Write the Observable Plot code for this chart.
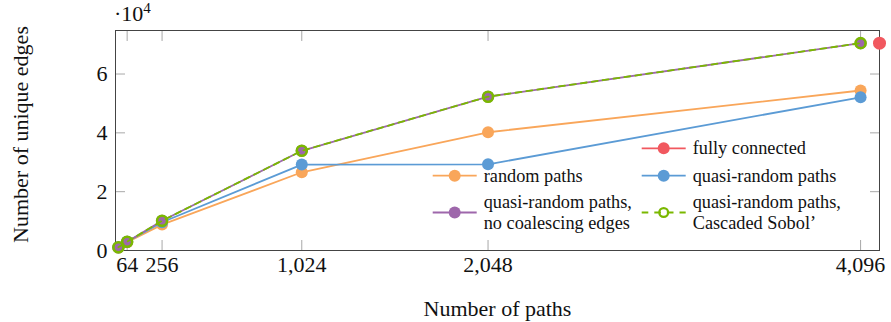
<!DOCTYPE html>
<html><head><meta charset="utf-8">
<script src="https://cdn.jsdelivr.net/npm/d3@7"></script>
<script src="https://cdn.jsdelivr.net/npm/@observablehq/plot@0.6"></script>
<style>
body{margin:0;background:#fff}
#chart{width:891px;height:322px}
</style>
</head><body><div id="chart"></div>
<script>
// ---- data ----
const paths = [16, 64, 256, 1024, 2048, 4096];
const randomPaths = [950, 2800, 8800, 26600, 40200, 54400];
const quasiRandomPaths = [1000, 2950, 9600, 29200, 29300, 52100];
const noCoalescing = [1100, 3000, 10100, 33900, 52300, 70500];
const cascadedSobol = [1100, 3000, 10100, 33900, 52300, 70500];
const fullyConnectedPaths = [4200];
const fullyConnectedEdges = [70500];
const xTicks = [64, 256, 1024, 2048, 4096];
const yTicks = [0, 20000, 40000, 60000];
const xLabel = "Number of paths";
const yLabel = "Number of unique edges";

const C = {orange:"#F9A65A", blue:"#5B9BD5", purple:"#9E67AB", green:"#7AB800", red:"#F1585F"};

const toRows = vals => paths.map((p, i) => ({paths: p, edges: vals[i]}));
const rRandom = toRows(randomPaths);
const rQuasi = toRows(quasiRandomPaths);
const rNoCo = toRows(noCoalescing);
const rSobol = toRows(cascadedSobol);
const rFull = fullyConnectedPaths.map((p, i) => ({paths: p, edges: fullyConnectedEdges[i]}));

const FONT = "Liberation Serif";
const lw = 1.8;

const chart = Plot.plot({
  width: 891, height: 322,
  marginLeft: 115, marginRight: 12, marginTop: 30, marginBottom: 72,
  style: {fontFamily: FONT, fontSize: "22px", background: "#fff", color: "#111"},
  x: {domain: [0, 4200]},
  y: {domain: [0, 74800]},
  marks: [
    // inward tick marks on all four sides
    Plot.axisX({anchor: "bottom", ticks: xTicks, tickSize: -10, stroke: "#a8a8a8", tickFormat: () => "", label: null}),
    Plot.axisX({anchor: "top", ticks: xTicks, tickSize: -10, stroke: "#a8a8a8", tickFormat: () => "", label: null}),
    Plot.axisY({anchor: "left", ticks: yTicks, tickSize: -10, stroke: "#a8a8a8", tickFormat: () => "", label: null}),
    Plot.axisY({anchor: "right", ticks: yTicks, tickSize: -10, stroke: "#a8a8a8", tickFormat: () => "", label: null}),
    // tick labels
    Plot.axisX({anchor: "bottom", ticks: xTicks, tickSize: 0, tickPadding: 6, tickFormat: d3.format(","), label: null, fontSize: 22}),
    Plot.axisY({anchor: "left", ticks: yTicks, tickSize: 0, tickPadding: 8, tickFormat: d => d / 1e4, label: null, fontSize: 22}),
    // axis titles
    Plot.text([xLabel], {text: d => d, frameAnchor: "bottom", lineAnchor: "bottom", dy: 65, fontSize: 22}),
    Plot.text([yLabel], {text: d => d, frameAnchor: "left", textAnchor: "middle", lineAnchor: "bottom", rotate: -90, dx: -88, dy: -6, fontSize: 22}),
    Plot.frame({stroke: "#444", strokeWidth: 1}),
    // series
    Plot.line(rRandom, {x: "paths", y: "edges", stroke: C.orange, strokeWidth: lw}),
    Plot.dot(rRandom, {x: "paths", y: "edges", fill: C.orange, r: 6}),
    Plot.line(rQuasi, {x: "paths", y: "edges", stroke: C.blue, strokeWidth: lw}),
    Plot.dot(rQuasi, {x: "paths", y: "edges", fill: C.blue, r: 6}),
    Plot.line(rNoCo, {x: "paths", y: "edges", stroke: C.purple, strokeWidth: lw}),
    Plot.dot(rNoCo, {x: "paths", y: "edges", fill: C.purple, r: 6}),
    Plot.line(rSobol, {x: "paths", y: "edges", stroke: C.green, strokeWidth: lw, strokeDasharray: "6,5"}),
    Plot.dot(rSobol, {x: "paths", y: "edges", fill: "none", stroke: C.green, strokeWidth: 2.6, r: 5}),
    Plot.dot(rFull, {x: "paths", y: "edges", fill: C.red, r: 6.5})
  ]
});
document.getElementById("chart").appendChild(chart);

// ---- multiplier label "·10^4" ----
const svg = d3.select(chart);
const mult = svg.append("text").attr("x", 114).attr("y", 21)
  .attr("text-anchor", "start")
  .attr("font-family", FONT).attr("font-size", 22).attr("fill", "#111");
mult.append("tspan").text("·10");
mult.append("tspan").attr("font-size", 15).attr("dy", -8).text("4");

// ---- legend ----
const legendItems = [
  {lines: ["fully connected"], color: C.red, col: 1, row: 0, kind: "solid"},
  {lines: ["random paths"], color: C.orange, col: 0, row: 1, kind: "solid"},
  {lines: ["quasi-random paths"], color: C.blue, col: 1, row: 1, kind: "solid"},
  {lines: ["quasi-random paths,", "no coalescing edges"], color: C.purple, col: 0, row: 2, kind: "solid"},
  {lines: ["quasi-random paths,", "Cascaded Sobol’"], color: C.green, col: 1, row: 2, kind: "dashed"}
];
const colX = [432.7, 641.7];
const rowY = [148.3, 175.7, 212.5];
const sampleW = 44;
const lg = svg.append("g").attr("font-family", FONT).attr("font-size", 18.3).attr("text-anchor", "start");
for (const it of legendItems) {
  const x0 = colX[it.col], y0 = rowY[it.row];
  const g = lg.append("g");
  g.append("line").attr("x1", x0).attr("x2", x0 + sampleW).attr("y1", y0).attr("y2", y0)
    .attr("stroke", it.color).attr("stroke-width", lw)
    .attr("stroke-dasharray", it.kind === "dashed" ? "6.6,6" : null);
  if (it.kind === "dashed") {
    g.append("circle").attr("cx", x0 + sampleW / 2).attr("cy", y0).attr("r", 4.4)
      .attr("fill", "none").attr("stroke", it.color).attr("stroke-width", 2.2);
  } else {
    g.append("circle").attr("cx", x0 + sampleW / 2).attr("cy", y0).attr("r", 6).attr("fill", it.color);
  }
  const n = it.lines.length;
  it.lines.forEach((t, i) => {
    g.append("text").attr("x", x0 + 51).attr("y", y0 + (i - (n - 1) / 2) * 21.6)
      .attr("dy", "0.32em").attr("fill", "#111").attr("text-anchor", "start").text(t);
  });
}
</script>
</body></html>
